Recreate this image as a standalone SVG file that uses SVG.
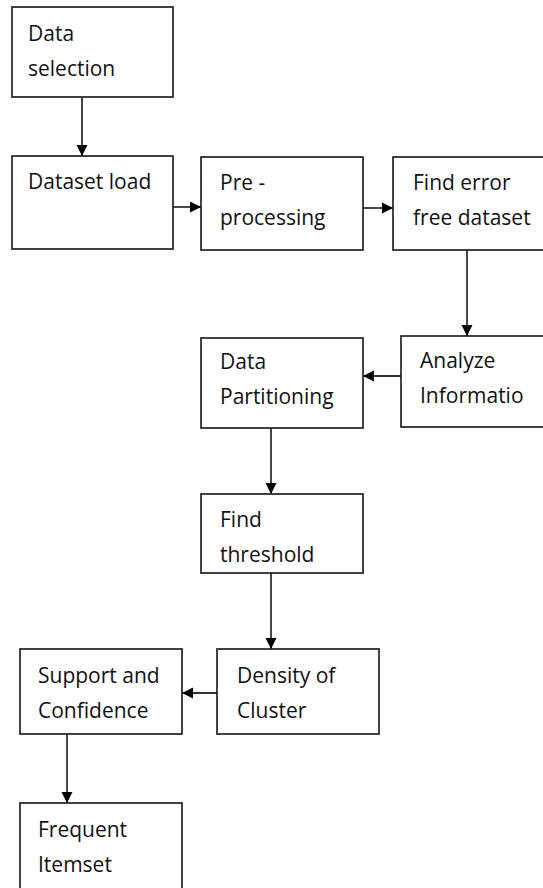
<svg xmlns="http://www.w3.org/2000/svg" width="543" height="888" viewBox="0 0 543 888">
<style>
.box{fill:#fff;stroke:#222;stroke-width:1.7}
.t{font-family:"Open Sans","Liberation Sans",sans-serif;font-size:21px;fill:#111}
.c{stroke:#333;stroke-width:1.8;fill:none;marker-end:url(#ah)}
</style>
<defs>
<marker id="ah" viewBox="0 0 10 10" refX="10" refY="5" markerWidth="6.4" markerHeight="6.2" markerUnits="strokeWidth" orient="auto">
<path d="M0,0 L10,5 L0,10 Z" fill="#000"/>
</marker>
</defs>
<rect width="543" height="888" fill="#fff"/>
<g id="connectors">
<line class="c" x1="82" y1="97" x2="82" y2="156"/>
<line class="c" x1="173" y1="207" x2="201" y2="207"/>
<line class="c" x1="363" y1="208" x2="393" y2="208"/>
<line class="c" x1="467" y1="250" x2="467" y2="336"/>
<line class="c" x1="401" y1="376" x2="363" y2="376"/>
<line class="c" x1="271" y1="428" x2="271" y2="494"/>
<line class="c" x1="271" y1="573" x2="271" y2="649"/>
<line class="c" x1="217" y1="693" x2="182" y2="693"/>
<line class="c" x1="67" y1="734" x2="67" y2="803"/>
</g>
<g id="n1"><rect class="box" x="12" y="7" width="161" height="90"/><text class="t" x="28" y="41">Data</text><text class="t" x="28" y="76">selection</text></g>
<g id="n2"><rect class="box" x="12" y="156" width="161" height="93"/><text class="t" x="28" y="189">Dataset load</text></g>
<g id="n3"><rect class="box" x="201" y="157" width="162" height="93"/><text class="t" x="220" y="190">Pre -</text><text class="t" x="220" y="225">processing</text></g>
<g id="n4"><rect class="box" x="393" y="157" width="170" height="93"/><text class="t" x="413" y="190">Find error</text><text class="t" x="413" y="225">free dataset</text></g>
<g id="n5"><rect class="box" x="401" y="336" width="162" height="91"/><text class="t" x="420" y="368">Analyze</text><text class="t" x="420" y="403">Informatio</text></g>
<g id="n6"><rect class="box" x="201" y="338" width="162" height="90"/><text class="t" x="220" y="369">Data</text><text class="t" x="220" y="404">Partitioning</text></g>
<g id="n7"><rect class="box" x="201" y="494" width="162" height="79"/><text class="t" x="220" y="527">Find</text><text class="t" x="220" y="562">threshold</text></g>
<g id="n8"><rect class="box" x="217" y="649" width="162" height="85"/><text class="t" x="237" y="683">Density of</text><text class="t" x="237" y="718">Cluster</text></g>
<g id="n9"><rect class="box" x="20" y="649" width="162" height="85"/><text class="t" x="38" y="683">Support and</text><text class="t" x="38" y="718">Confidence</text></g>
<g id="n10"><rect class="box" x="20" y="803" width="162" height="100"/><text class="t" x="38" y="837">Frequent</text><text class="t" x="38" y="872">Itemset</text></g>
</svg>
